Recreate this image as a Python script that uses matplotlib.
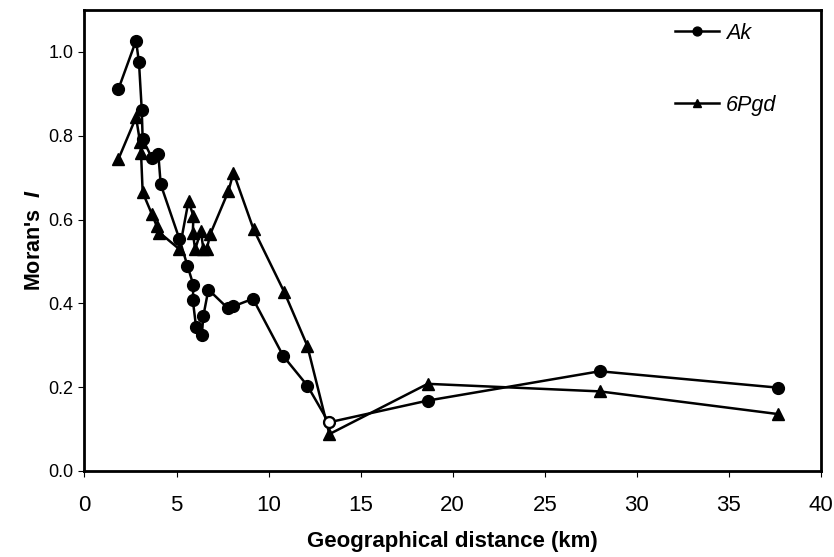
import numpy as np
import matplotlib
matplotlib.use("Agg")
import matplotlib.pyplot as plt
from matplotlib.ticker import FormatStrFormatter

plt.rcParams['font.family'] = ['Liberation Sans', 'DejaVu Sans']
plt.rcParams['mathtext.fontset'] = 'custom'
plt.rcParams['mathtext.bfit'] = 'Liberation Sans:italic:bold'

# Ak: distance (km) vs Moran's I
ak_dist = [1.84, 2.80, 2.96, 3.11, 3.16, 3.65, 4.01, 4.14, 5.16, 5.59, 5.92, 5.88, 6.06,
           6.37, 6.46, 6.73, 7.77, 8.09, 9.15, 10.80, 12.10, 13.26, 18.64, 27.98, 37.64]
ak_moran = [0.911, 1.027, 0.975, 0.862, 0.792, 0.748, 0.756, 0.684, 0.553, 0.490, 0.443, 0.409, 0.344,
            0.325, 0.371, 0.433, 0.389, 0.393, 0.411, 0.274, 0.204, 0.116, 0.168, 0.238, 0.199]
ak_open = [21]  # index of the non-significant (open) point

# 6Pgd
pgd_dist = [1.84, 2.80, 3.02, 3.07, 3.16, 3.65, 3.93, 4.07, 5.16, 5.65, 5.92, 5.88, 6.01,
            6.32, 6.46, 6.64, 6.83, 7.82, 8.09, 9.18, 10.85, 12.10, 13.30, 18.64, 27.98, 37.64]
pgd_moran = [0.744, 0.844, 0.784, 0.760, 0.665, 0.614, 0.584, 0.569, 0.529, 0.644, 0.608, 0.569, 0.529,
             0.572, 0.529, 0.529, 0.565, 0.668, 0.712, 0.577, 0.427, 0.299, 0.088, 0.208, 0.190, 0.136]

fig = plt.figure(figsize=(8.34, 5.57), dpi=100)
ax = fig.add_axes([0.1013, 0.1544, 0.8831, 0.8276])

ax.plot(ak_dist, ak_moran, color='black', lw=1.8, marker='o', ms=8.5,
        mfc='black', mec='black', label='Ak', zorder=3)
ax.plot(np.array(ak_dist)[ak_open], np.array(ak_moran)[ak_open], ls='none', marker='o',
        ms=7.5, mfc='white', mec='black', mew=1.3, zorder=4)
ax.plot(pgd_dist, pgd_moran, color='black', lw=1.8, marker='^', ms=8,
        mfc='black', mec='black', label='6Pgd', zorder=3)

ax.set_xlim(0, 40)
ax.set_ylim(0, 1.1)
ax.set_xticks(np.arange(0, 41, 5))
ax.set_yticks(np.arange(0, 1.01, 0.2))
ax.yaxis.set_major_formatter(FormatStrFormatter('%.1f'))
ax.tick_params(axis='x', labelsize=16, length=4, width=0.8, pad=13)
ax.tick_params(axis='y', labelsize=13, length=4, width=0.8, pad=4)
for s in ax.spines.values():
    s.set_linewidth(2)

ax.set_xlabel('Geographical distance (km)', fontsize=16, fontweight='bold', labelpad=11)
ax.set_ylabel("Moran's  $\\mathbfit{I}$", fontsize=15.5, fontweight='bold', labelpad=2)

leg = ax.legend(loc='upper left', bbox_to_anchor=(0.802, 0.972), frameon=False,
                borderpad=0, borderaxespad=0, handlelength=2.05, handletextpad=0.3,
                labelspacing=2.35, markerscale=0.75, prop={'style': 'italic', 'size': 15.5})

fig.savefig('out.png', dpi=100)
